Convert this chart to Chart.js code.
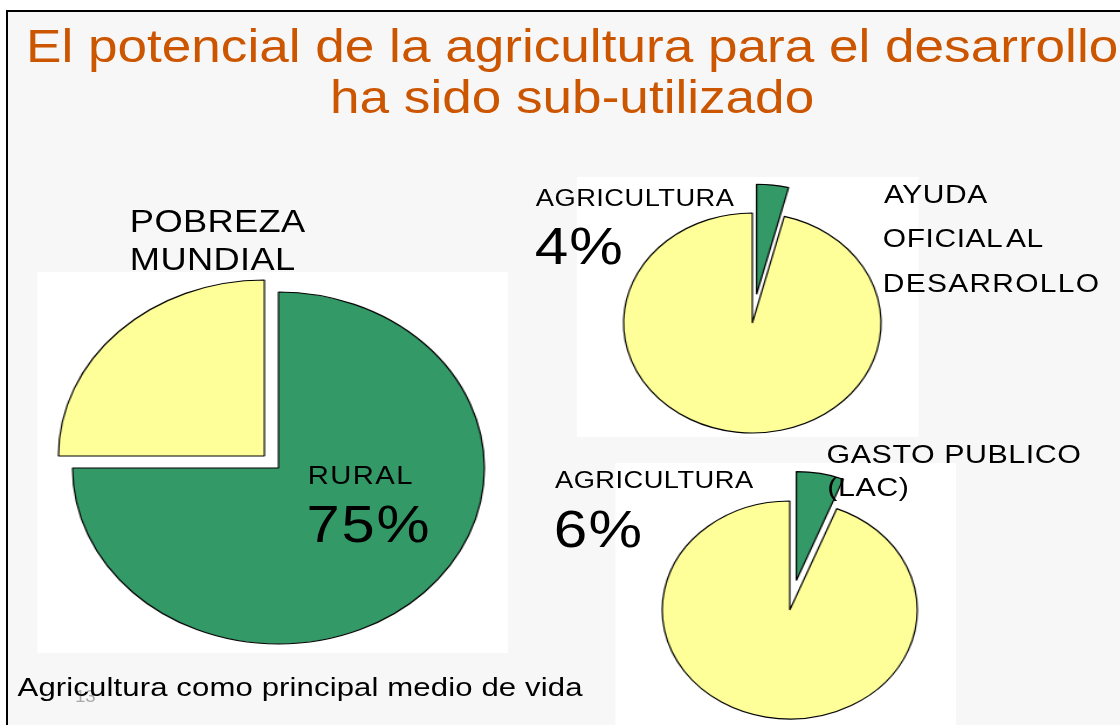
<!DOCTYPE html>
<html>
<head>
<meta charset="utf-8">
<title>El potencial de la agricultura</title>
<script src="https://cdn.jsdelivr.net/npm/chart.js@4.4.1/dist/chart.umd.min.js"></script>
<style>
    body {
        margin: 0;
        background: #fff;
        font-family: "Liberation Sans", Arial, sans-serif;
    }
    #page {
        position: relative;
        width: 1120px;
        height: 725px;
        overflow: hidden;
    }
    #slide {
        position: absolute;
        left: 6px;
        top: 10px;
        right: 0;
        bottom: 0;
        background: #f7f7f7;
        border-left: 2px solid #000;
        border-top: 2px solid #000;
    }
    /* the slide is a 4:3 page stretched wide, so everything is drawn narrow and scaled */
    #stage {
        position: absolute;
        left: 0;
        top: 0;
        width: 957px;
        height: 725px;
        transform: scaleX(1.17);
        transform-origin: 0 0;
    }
    .box {
        position: absolute;
        background: #fff;
    }
    .txt {
        position: absolute;
        white-space: nowrap;
        line-height: 1;
        color: #000;
    }
    .title {
        position: absolute;
        left: 0;
        width: 978px;
        text-align: center;
        line-height: 1;
        font-size: 45.4px;
        color: #cc5500;
        white-space: nowrap;
    }
    canvas {
        position: absolute;
    }
</style>
</head>
<body>
<div id="page">
    <div id="slide"></div>
    <div id="stage"></div>
</div>

<script>
const titleLines = [
    "El potencial de la agricultura para el desarrollo",
    "ha sido sub-utilizado"
];

const pobrezaLabels = ["Rural", "Urbana"];
const pobrezaValues = [75, 25];

const ayudaLabels = ["Agricultura", "Otros sectores"];
const ayudaValues = [4, 96];

const gastoLabels = ["Agricultura", "Otros sectores"];
const gastoValues = [6, 94];

const sliceColors = ["#339966", "#ffff99"];

const stage = document.getElementById("stage");

// pulls a slice straight out along its middle angle
const explodePlugin = {
    id: "explode",
    afterUpdate(chart) {
        chart.data.datasets.forEach((ds, i) => {
            if (!ds.explode) return;
            chart.getDatasetMeta(i).data.forEach((arc, j) => {
                const d = ds.explode[j] || 0;
                const mid = (arc.startAngle + arc.endAngle) / 2;
                arc.x += Math.cos(mid) * d;
                arc.y += Math.sin(mid) * d;
            });
        });
    }
};

function addText(text, x, baseline, size, spacing, color) {
    const el = document.createElement("div");
    el.className = "txt";
    el.textContent = text;
    el.style.fontSize = size + "px";
    el.style.left = x + "px";
    el.style.top = (baseline - 0.8465 * size) + "px";
    if (spacing) el.style.letterSpacing = spacing + "px";
    if (color) el.style.color = color;
    stage.appendChild(el);
    return el;
}

function addBox(x, y, w, h) {
    const el = document.createElement("div");
    el.className = "box";
    el.style.left = x + "px";
    el.style.top = y + "px";
    el.style.width = w + "px";
    el.style.height = h + "px";
    stage.appendChild(el);
}

function drawPie(cx, cy, radius, labels, values, explode) {
    const size = Math.ceil(2 * (radius + Math.max(...explode) + 4));
    const canvas = document.createElement("canvas");
    canvas.width = size;
    canvas.height = size;
    canvas.style.left = (cx - size / 2) + "px";
    canvas.style.top = (cy - size / 2) + "px";
    stage.appendChild(canvas);

    new Chart(canvas, {
        type: "pie",
        data: {
            labels,
            datasets: [{
                data: values,
                backgroundColor: sliceColors,
                borderColor: "#000",
                borderWidth: 1.2,
                explode
            }]
        },
        options: {
            responsive: false,
            animation: false,
            events: [],
            radius,
            layout: { padding: 0 },
            plugins: {
                legend: { display: false },
                tooltip: { enabled: false }
            }
        },
        plugins: [explodePlugin]
    });
}

// title
titleLines.forEach((line, i) => {
    const el = document.createElement("div");
    el.className = "title";
    el.textContent = line;
    el.style.top = (62 + i * 51 - 0.8465 * 45.4) + "px";
    stage.appendChild(el);
});

// text that the picture box hides partly
addText("POBREZA", 111, 232, 31, 0.3);
addText("MUNDIAL", 111, 270, 31, 0.3);

addBox(31.6, 272, 402.6, 381);
addBox(493.2, 177, 291.4, 260);
addBox(525.6, 463, 291.5, 262);

drawPie(237.6, 467.5, 176, pobrezaLabels, pobrezaValues, [0, 17]);
drawPie(642.7, 323, 110, ayudaLabels, ayudaValues, [29, 0]);
drawPie(674.8, 609.5, 109, gastoLabels, gastoValues, [30, 0]);

addText("RURAL", 263, 484.5, 25, 1.2);
addText("75%", 262, 542, 51, 1.5);

addText("AGRICULTURA", 458, 206.7, 23.3, 0.4);
addText("4%", 457, 265, 51.5, 1);

addText("AYUDA", 755.5, 203.3, 25.6, 0.5);
addText("OFICIAL AL", 754.5, 247.7, 25.6, 0.5).style.wordSpacing = "-3px";
addText("DESARROLLO", 754.5, 292.7, 25.6, 1.1);

addText("AGRICULTURA", 474.4, 489, 23.3, 0.4);
addText("6%", 473.4, 548, 51.5, 1);

addText("GASTO PUBLICO", 706.5, 463, 26, 0.45);
addText("(LAC)", 707, 496, 26, 0.5);

addText("13", 64, 703, 16, 0, "#aaaaaa");
addText("Agricultura como principal medio de vida", 15, 697, 26.6, 0.1);
</script>
</body>
</html>
